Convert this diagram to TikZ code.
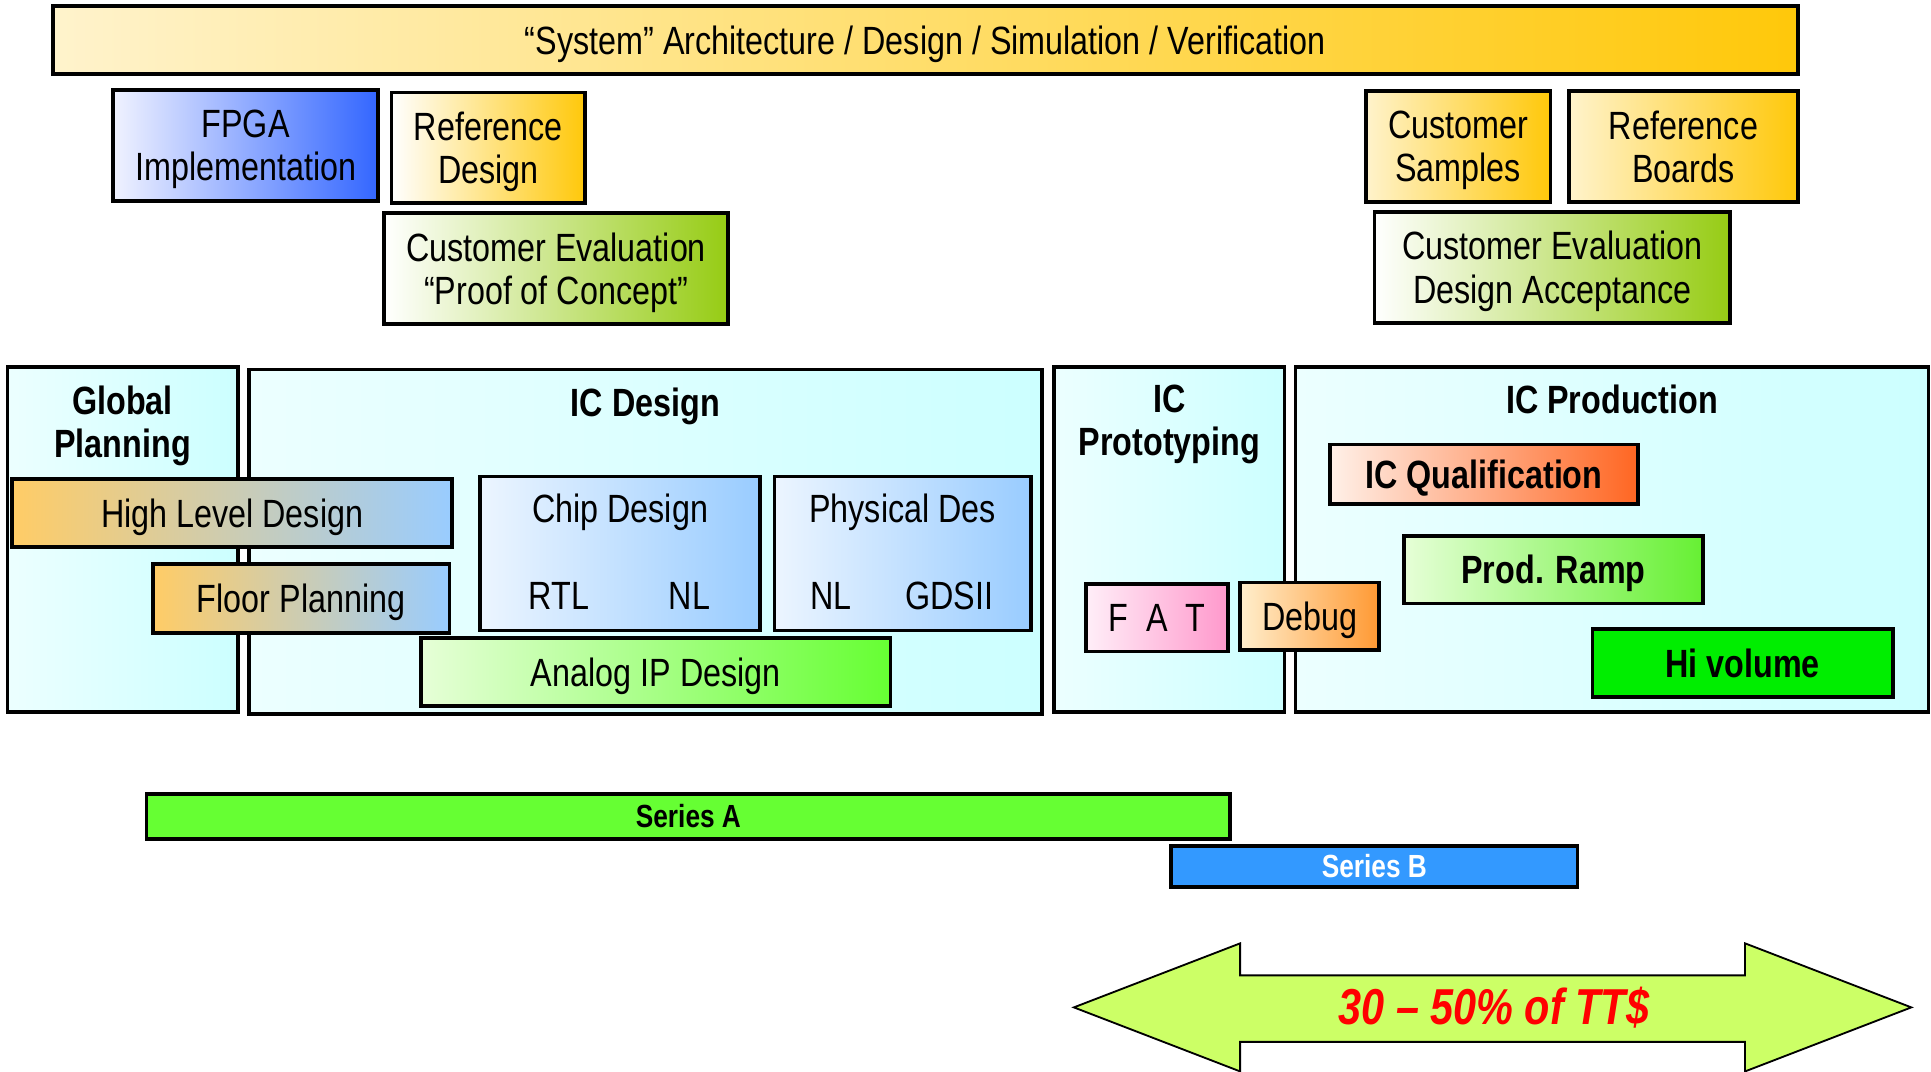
\documentclass[tikz,border=0pt]{standalone}
\usepackage{fontspec}
\setmainfont{Liberation Sans}[FakeStretch=0.82]

\definecolor{creamL}{RGB}{255,243,204}
\definecolor{goldR}{RGB}{255,200,10}
\definecolor{fpgaL}{RGB}{240,242,255}
\definecolor{fpgaR}{RGB}{51,102,255}
\definecolor{limeR}{RGB}{150,204,20}
\definecolor{phaseL}{RGB}{236,255,255}
\definecolor{phaseR}{RGB}{204,255,255}
\definecolor{orangeL}{RGB}{255,204,102}
\definecolor{skyR}{RGB}{153,204,255}
\definecolor{paleblueL}{RGB}{236,245,255}
\definecolor{mintL}{RGB}{230,255,215}
\definecolor{grassR}{RGB}{102,255,51}
\definecolor{rampR}{RGB}{102,240,51}
\definecolor{peachL}{RGB}{255,240,232}
\definecolor{rustR}{RGB}{255,102,34}
\definecolor{hivol}{RGB}{0,238,0}
\definecolor{pinkL}{RGB}{255,238,248}
\definecolor{pinkR}{RGB}{255,153,204}
\definecolor{debugL}{RGB}{255,238,204}
\definecolor{debugR}{RGB}{255,153,51}
\definecolor{seriesA}{RGB}{102,255,51}
\definecolor{seriesB}{RGB}{51,153,255}
\definecolor{arrowG}{RGB}{204,255,102}

\begin{document}
\begin{tikzpicture}[x=1pt,y=-1pt,
  box/.style={draw=black,line width=3pt,inner sep=0pt,align=center,text depth=0pt,font=\fontsize{32}{35}\selectfont},
  boldbox/.style={box,font=\fontsize{32}{35}\selectfont\bfseries},
  phase/.style={draw=black,line width=3pt,inner sep=0pt,left color=phaseL,right color=phaseR},
  head/.style={align=center,inner sep=0pt,text depth=0pt,font=\fontsize{32}{35}\selectfont\bfseries},
  lbl/.style={inner sep=0pt,text depth=0pt,font=\fontsize{32}{35}\selectfont},
  bar/.style={draw=black,line width=3pt,inner sep=0pt,font=\fontsize{26}{28}\selectfont\bfseries}]
\useasboundingbox (0,0) rectangle (1568,870);

% system level row
\node[box,left color=creamL,right color=goldR,minimum width=1417pt,minimum height=55pt] (sys) at (751.5,32.5) {``System'' Architecture / Design / Simulation / Verification};
\node[box,left color=fpgaL,right color=fpgaR,minimum width=215pt,minimum height=90pt] (fpga) at (199.5,118) {FPGA\\Implementation};
\node[box,left color=white,right color=goldR,minimum width=157pt,minimum height=90pt] (refdes) at (396.5,120) {Reference\\Design};
\node[box,left color=white,right color=limeR,minimum width=279pt,minimum height=90pt] (poc) at (451.5,218) {Customer Evaluation\\``Proof of Concept''};
\node[box,left color=creamL,right color=goldR,minimum width=150pt,minimum height=90pt] (samples) at (1184,119) {Customer\\Samples};
\node[box,left color=creamL,right color=goldR,minimum width=186pt,minimum height=90pt] (boards) at (1367,119) {Reference\\Boards};
\node[box,left color=white,right color=limeR,minimum width=289pt,minimum height=90pt] (accept) at (1260.5,217) {Customer Evaluation\\Design Acceptance};

% phases
\node[phase,minimum width=187pt,minimum height=280pt] (global) at (99.5,438) {};
\node[phase,minimum width=644pt,minimum height=280pt] (icdesign) at (524,440) {};
\node[phase,minimum width=187pt,minimum height=280pt] (proto) at (949.5,438) {};
\node[phase,minimum width=514pt,minimum height=280pt] (prod) at (1309,438) {};
\node[head] (global_t) at (99.5,342.5) {Global\\Planning};
\node[head] (icdesign_t) at (524,327) {IC Design};
\node[head] (proto_t) at (949.5,341.5) {IC\\Prototyping};
\node[head] (prod_t) at (1309,324) {IC Production};

% design tasks
\node[box,left color=orangeL,right color=skyR,minimum width=357pt,minimum height=55pt] (hld) at (188.5,416.5) {High Level Design};
\node[box,left color=orangeL,right color=skyR,minimum width=241pt,minimum height=56pt] (floor) at (244.5,486) {Floor Planning};
\node[box,left color=paleblueL,right color=skyR,minimum width=227pt,minimum height=125pt] (chip) at (503.5,449.5) {};
\node[box,left color=paleblueL,right color=skyR,minimum width=208pt,minimum height=125pt] (phys) at (733,449.5) {};
\node[lbl] (chip_t) at (503.5,413) {Chip Design};
\node[lbl] (chip_rtl) at (454,484) {RTL};
\node[lbl] (chip_nl) at (560,484) {NL};
\node[lbl] (phys_t) at (733,413) {Physical Des};
\node[lbl] (phys_nl) at (675,484) {NL};
\node[lbl] (phys_gds) at (771,484) {GDSII};
\node[box,left color=mintL,right color=grassR,minimum width=381pt,minimum height=55pt] (analog) at (532.5,545.5) {Analog IP Design};

% prototyping and production tasks
\node[box,left color=pinkL,right color=pinkR,minimum width=115pt,minimum height=55pt] (fat) at (939.5,501.5) {F\ \ A\ \ T};
\node[box,left color=debugL,right color=debugR,minimum width=113pt,minimum height=55pt] (debug) at (1063.5,500.5) {Debug};
\node[boldbox,left color=peachL,right color=rustR,minimum width=250pt,minimum height=48pt] (qual) at (1205,385) {IC Qualification};
\node[boldbox,left color=mintL,right color=rampR,minimum width=243pt,minimum height=55pt] (ramp) at (1261.5,462.5) {Prod. Ramp};
\node[boldbox,fill=hivol,minimum width=244pt,minimum height=55pt] (hivol) at (1415,538.5) {Hi volume};

% series
\node[bar,fill=seriesA,minimum width=880pt,minimum height=36pt] (sera) at (559,663) {Series A};
\node[bar,fill=seriesB,text=white,minimum width=330pt,minimum height=33pt] (serb) at (1116,703.5) {Series B};

% share of total time
\draw[line width=1.5pt,fill=arrowG] (872,818) -- (1007,766) -- (1007,792) -- (1417,792) -- (1417,766) -- (1552,818) -- (1417,870) -- (1417,846) -- (1007,846) -- (1007,870) -- cycle;
\node[inner sep=0pt,text=red,font=\fontsize{41}{44}\selectfont\bfseries\itshape] (tt) at (1213,818) {30 -- 50\% of TT\$};
\end{tikzpicture}
\end{document}
